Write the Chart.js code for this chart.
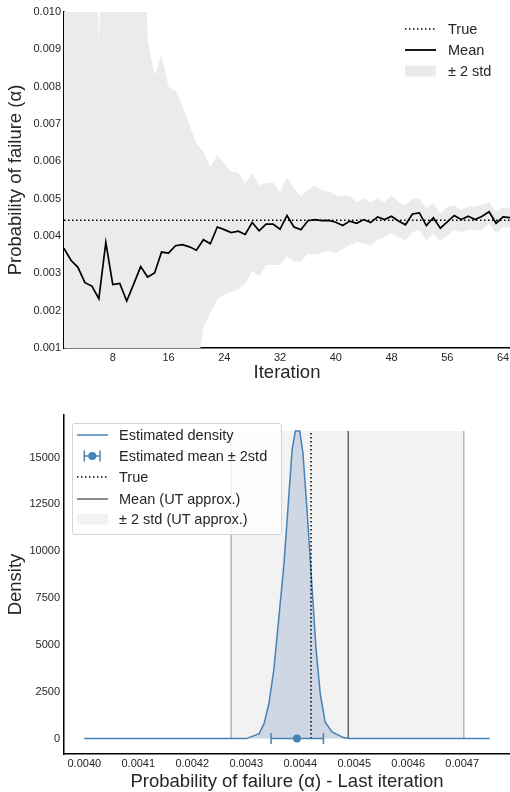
<!DOCTYPE html>
<html lang="en">
<head>
  <meta charset="UTF-8" />
  <title>Probability of failure</title>
  <script src="https://cdn.jsdelivr.net/npm/chart.js"></script>
  <style>
    body { margin: 0; background: #fff; font-family: 'Liberation Sans', Arial, sans-serif; }
    #wrap { position: relative; width: 510px; height: 792px; overflow: hidden; }
    canvas { position: absolute; left: 0; }
    .row { position: absolute; height: 20px; line-height: 20px; font-size: 14.5px; color: #262626; white-space: nowrap; }
    .row svg { position: absolute; left: 0; top: 3px; }
    .row span { position: absolute; top: 0; }
    #boxLegend { position: absolute; left: 72px; top: 423px; width: 208px; height: 110px;
      border: 1px solid #d3d3d3; border-radius: 3px; background: rgba(255,255,255,0.8); }
  </style>
</head>
<body>
<div id="wrap">
  <canvas id="topChart" width="510" height="395" style="top:0"></canvas>
  <canvas id="bottomChart" width="510" height="397" style="top:395px"></canvas>

  <!-- legend, top chart (no frame) -->
  <div class="row" style="left:405px;top:19px">
    <svg width="31" height="14"><line x1="0" y1="7" x2="31" y2="7" stroke="#000" stroke-width="1.5" stroke-dasharray="1.5 2.5"/></svg>
    <span style="left:43px">True</span>
  </div>
  <div class="row" style="left:405px;top:40px">
    <svg width="31" height="14"><line x1="0" y1="7" x2="31" y2="7" stroke="#000" stroke-width="1.8"/></svg>
    <span style="left:43px">Mean</span>
  </div>
  <div class="row" style="left:405px;top:61px">
    <svg width="31" height="14"><rect x="0" y="1.5" width="31" height="11" fill="#ebebeb"/></svg>
    <span style="left:43px">± 2 std</span>
  </div>

  <!-- legend, bottom chart -->
  <div id="boxLegend"></div>
  <div class="row" style="left:77px;top:425px">
    <svg width="31" height="14"><line x1="0" y1="7" x2="31" y2="7" stroke="#4682b4" stroke-width="1.5"/></svg>
    <span style="left:42px">Estimated density</span>
  </div>
  <div class="row" style="left:77px;top:446px">
    <svg width="31" height="14">
      <line x1="7.3" y1="7" x2="23" y2="7" stroke="#4682b4" stroke-width="1.5"/>
      <line x1="7.3" y1="1.5" x2="7.3" y2="12.5" stroke="#4682b4" stroke-width="1.5"/>
      <line x1="23" y1="1.5" x2="23" y2="12.5" stroke="#4682b4" stroke-width="1.5"/>
      <circle cx="15.3" cy="7" r="4" fill="#4682b4"/>
    </svg>
    <span style="left:42px">Estimated mean ± 2std</span>
  </div>
  <div class="row" style="left:77px;top:467px">
    <svg width="31" height="14"><line x1="0" y1="7" x2="31" y2="7" stroke="#000" stroke-width="1.5" stroke-dasharray="1.5 2.5"/></svg>
    <span style="left:42px">True</span>
  </div>
  <div class="row" style="left:77px;top:489px">
    <svg width="31" height="14"><line x1="0" y1="7" x2="31" y2="7" stroke="#666" stroke-width="1.5"/></svg>
    <span style="left:42px">Mean (UT approx.)</span>
  </div>
  <div class="row" style="left:77px;top:509px">
    <svg width="31" height="14"><rect x="0" y="1.5" width="31" height="11" fill="#f2f2f2"/></svg>
    <span style="left:42px">± 2 std (UT approx.)</span>
  </div>
</div>

<script>
  // ---- top chart: running estimate per iteration ----
  const iterations = [1, 2, 3, 4, 5, 6, 7, 8, 9, 10, 11, 12, 13, 14, 15, 16, 17, 18, 19, 20,
    21, 22, 23, 24, 25, 26, 27, 28, 29, 30, 31, 32, 33, 34, 35, 36, 37, 38, 39, 40,
    41, 42, 43, 44, 45, 46, 47, 48, 49, 50, 51, 52, 53, 54, 55, 56, 57, 58, 59, 60,
    61, 62, 63, 64, 65];
  const meanVals = [0.00367, 0.00335, 0.00316, 0.00275, 0.00266, 0.00232, 0.00383, 0.00270, 0.00273, 0.00226,
    0.00271, 0.00318, 0.00290, 0.00301, 0.00357, 0.00354, 0.00374, 0.00377, 0.00371, 0.00362,
    0.00390, 0.00379, 0.00424, 0.00417, 0.00409, 0.00413, 0.00404, 0.00436, 0.00414, 0.00432,
    0.00432, 0.00418, 0.00455, 0.00424, 0.00417, 0.00441, 0.00444, 0.00441, 0.00442, 0.00437,
    0.00428, 0.00440, 0.00434, 0.00444, 0.00436, 0.00451, 0.00444, 0.00453, 0.00440, 0.00430,
    0.00459, 0.00462, 0.00428, 0.00449, 0.00421, 0.00438, 0.00455, 0.00444, 0.00453, 0.00444,
    0.00453, 0.00465, 0.00434, 0.00451, 0.00449];
  const upperVals = [0.0210, 0.0195, 0.0188, 0.0176, 0.0170, 0.0091, 0.0172, 0.0160, 0.0168, 0.0150,
    0.0158, 0.01675, 0.00925, 0.00831, 0.00884, 0.00800, 0.00789, 0.00748, 0.00697, 0.00648,
    0.00625, 0.00585, 0.00617, 0.00594, 0.00572, 0.00570, 0.00541, 0.00568, 0.00536, 0.00541,
    0.00543, 0.00518, 0.00558, 0.00527, 0.00505, 0.00523, 0.00536, 0.00523, 0.00518, 0.00509,
    0.00507, 0.00507, 0.00491, 0.00500, 0.00491, 0.00500, 0.00491, 0.00509, 0.00491, 0.00483,
    0.00500, 0.00500, 0.00474, 0.00488, 0.00460, 0.00478, 0.00483, 0.00469, 0.00480, 0.00478,
    0.00483, 0.00491, 0.00465, 0.00478, 0.00474];
  const lowerVals = [-0.0137, -0.0128, -0.0124, -0.0121, -0.0117, -0.0045, -0.0095, -0.0105, -0.0110, -0.0105,
    -0.0103, -0.0104, -0.0034, -0.0023, -0.0017, -0.0009, -0.0004, 0.0001, 0.0000, 0.00027,
    0.00155, 0.00195, 0.00230, 0.00243, 0.00250, 0.00257, 0.00272, 0.00306, 0.00293, 0.00322,
    0.00322, 0.00322, 0.00346, 0.00331, 0.00331, 0.00353, 0.00350, 0.00355, 0.00362, 0.00353,
    0.00366, 0.00375, 0.00384, 0.00380, 0.00375, 0.00390, 0.00398, 0.00407, 0.00398, 0.00388,
    0.00411, 0.00416, 0.00388, 0.00407, 0.00387, 0.00400, 0.00416, 0.00411, 0.00417, 0.00416,
    0.00417, 0.00434, 0.00407, 0.00424, 0.00422];
  const trueVal = 0.00442;
  const iterTicks = [8, 16, 24, 32, 40, 48, 56, 64];
  const probTicks = [0.001, 0.002, 0.003, 0.004, 0.005, 0.006, 0.007, 0.008, 0.009, 0.010];

  // ---- bottom chart: density at the last iteration ----
  const densX = [0.00400, 0.00410, 0.00420, 0.00430, 0.004324, 0.004333, 0.004342, 0.004351, 0.004360, 0.004370,
    0.004378, 0.004385, 0.004391, 0.004399, 0.004405, 0.004413, 0.004421, 0.004429, 0.004437, 0.004446,
    0.004459, 0.004480, 0.004490, 0.00460, 0.00470, 0.004751];
  const densY = [0, 0, 0, 0, 268, 803, 1874, 3656, 6333, 9368,
    12580, 15434, 16413, 16413, 15257, 12045, 8475, 4904, 2409, 889,
    353, 54, 0, 0, 0, 0];
  const densPeak = 16413;
  const estMean = 0.004394;
  const estLow = 0.004346;
  const estHigh = 0.004443;
  const utMean = 0.004489;
  const utLow = 0.004272;
  const utHigh = 0.004703;
  const alphaTicks = [0.0040, 0.0041, 0.0042, 0.0043, 0.0044, 0.0045, 0.0046, 0.0047];
  const densTicks = [0, 2500, 5000, 7500, 10000, 12500, 15000];

  Chart.defaults.font.family = "'Liberation Sans', Arial, sans-serif";
  Chart.defaults.color = '#262626';

  const pts = (xs, ys) => xs.map((x, i) => ({ x, y: ys[i] }));
  const noPad = s => { s.paddingLeft = 0; s.paddingRight = 0; s.paddingTop = 0; s.paddingBottom = 0; };
  const noGrid = { display: false, drawTicks: false };

  new Chart(document.getElementById('topChart'), {
    type: 'line',
    data: {
      datasets: [
        { data: pts(iterations, upperVals), borderWidth: 0, pointRadius: 0, fill: '+1', backgroundColor: '#ebebeb', order: 3 },
        { data: pts(iterations, lowerVals), borderWidth: 0, pointRadius: 0, fill: false, order: 3 },
        { data: [{ x: 1, y: trueVal }, { x: 65, y: trueVal }], borderColor: '#000', borderWidth: 1.5,
          borderDash: [1.5, 2.5], pointRadius: 0, fill: false, order: 1 },
        { data: pts(iterations, meanVals), borderColor: '#000', borderWidth: 1.7, pointRadius: 0,
          fill: false, tension: 0, order: 0 }
      ]
    },
    options: {
      responsive: false,
      animation: false,
      devicePixelRatio: 1,
      layout: { autoPadding: false, padding: { top: 12, right: 0, left: 0, bottom: 0 } },
      plugins: { legend: { display: false }, tooltip: { enabled: false } },
      scales: {
        x: {
          type: 'linear', min: 1, max: 65,
          grid: noGrid,
          border: { display: true, color: '#000', width: 1.5 },
          afterBuildTicks: s => { s.ticks = iterTicks.map(v => ({ value: v })); },
          ticks: { font: { size: 11 }, padding: 3, maxRotation: 0 },
          title: { display: true, text: 'Iteration', font: { size: 18.5 }, padding: { top: 0, bottom: 11 } },
          afterFit: s => { s.height = 47; noPad(s); }
        },
        y: {
          type: 'linear', min: 0.001, max: 0.010,
          grid: noGrid,
          border: { display: true, color: '#000', width: 1.5 },
          afterBuildTicks: s => { s.ticks = probTicks.map(v => ({ value: v })); },
          ticks: { font: { size: 11 }, padding: 3, callback: v => v.toFixed(3) },
          title: { display: true, text: 'Probability of failure (α)', font: { size: 18.5 }, padding: { top: 5, bottom: 0 } },
          afterFit: s => { s.width = 64; noPad(s); }
        }
      }
    }
  });

  new Chart(document.getElementById('bottomChart'), {
    type: 'line',
    data: {
      datasets: [
        { data: [{ x: utLow, y: 0 }, { x: utLow, y: densPeak }, { x: utHigh, y: densPeak }, { x: utHigh, y: 0 }],
          borderWidth: 0, pointRadius: 0, fill: 'origin', backgroundColor: '#f2f2f2', order: 10 },
        { data: [{ x: utLow, y: 0 }, { x: utLow, y: densPeak }], borderColor: '#b5b5b5', borderWidth: 1.5,
          pointRadius: 0, fill: false, order: 9 },
        { data: [{ x: utHigh, y: 0 }, { x: utHigh, y: densPeak }], borderColor: '#b5b5b5', borderWidth: 1.5,
          pointRadius: 0, fill: false, order: 9 },
        { data: [{ x: utMean, y: 0 }, { x: utMean, y: densPeak }], borderColor: '#666', borderWidth: 1.5,
          pointRadius: 0, fill: false, order: 8 },
        { data: pts(densX, densY), borderColor: '#4682b4', borderWidth: 1.5, pointRadius: 0,
          fill: 'origin', backgroundColor: 'rgba(70,110,175,0.2)', tension: 0, order: 7 },
        { data: [{ x: trueVal, y: 0 }, { x: trueVal, y: densPeak }], borderColor: '#000', borderWidth: 1.5,
          borderDash: [1.5, 2.5], pointRadius: 0, fill: false, order: 6 },
        { data: [{ x: estLow, y: 0 }, { x: estHigh, y: 0 }], borderColor: '#4682b4', borderWidth: 1.5,
          pointStyle: 'line', rotation: 90, pointRadius: 5.5, pointBorderWidth: 1.5,
          pointBorderColor: '#4682b4', fill: false, order: 5 },
        { data: [{ x: estMean, y: 0 }], showLine: false, pointStyle: 'circle', pointRadius: 4,
          pointBackgroundColor: '#4682b4', pointBorderColor: '#4682b4', pointBorderWidth: 0, order: 4 }
      ]
    },
    options: {
      responsive: false,
      animation: false,
      devicePixelRatio: 1,
      layout: { autoPadding: false, padding: { top: 20, right: 0, left: 0, bottom: 0 } },
      plugins: { legend: { display: false }, tooltip: { enabled: false } },
      scales: {
        x: {
          type: 'linear', min: 0.0039624, max: 0.0047886,
          grid: noGrid,
          border: { display: true, color: '#000', width: 1.5 },
          afterBuildTicks: s => { s.ticks = alphaTicks.map(v => ({ value: v })); },
          ticks: { font: { size: 11 }, padding: 3, maxRotation: 0, callback: v => v.toFixed(4) },
          title: { display: true, text: 'Probability of failure (α) - Last iteration', font: { size: 18.5 },
            padding: { top: 0, bottom: -1 } },
          afterFit: s => { s.height = 38; noPad(s); }
        },
        y: {
          type: 'linear', min: -822, max: 17272,
          grid: noGrid,
          border: { display: true, color: '#000', width: 1.5 },
          afterBuildTicks: s => { s.ticks = densTicks.map(v => ({ value: v })); },
          ticks: { font: { size: 11 }, padding: 4, callback: v => String(v) },
          title: { display: true, text: 'Density', font: { size: 18.5 }, padding: { top: 5, bottom: 0 } },
          afterFit: s => { s.width = 64; noPad(s); }
        }
      }
    }
  });
</script>
</body>
</html>
